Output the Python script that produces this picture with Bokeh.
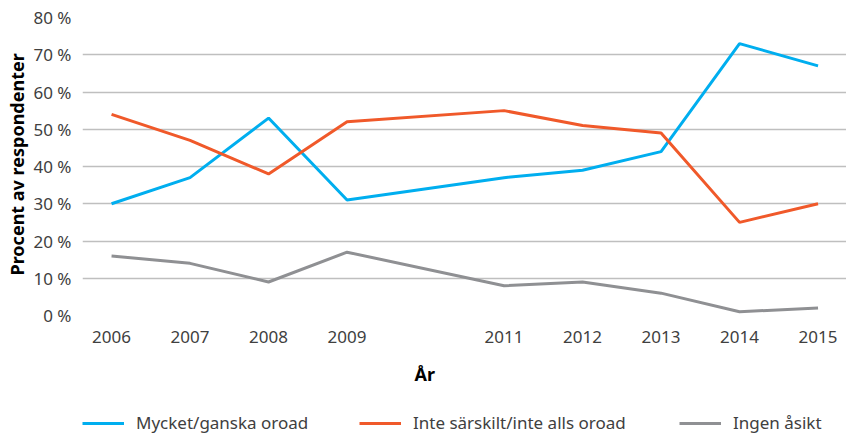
from bokeh.plotting import figure
from bokeh.models import Range1d, FixedTicker, Legend, LegendItem, Title
from bokeh.layouts import column
from bokeh.embed import file_html
from bokeh.resources import INLINE

years = [2006, 2007, 2008, 2009, 2011, 2012, 2013, 2014, 2015]
oroad = [30, 37, 53, 31, 37, 39, 44, 73, 67]
inte_oroad = [54, 47, 38, 52, 55, 51, 49, 25, 30]
ingen_asikt = [16, 14, 9, 17, 8, 9, 6, 1, 2]
series_names = ["Mycket/ganska oroad", "Inte särskilt/inte alls oroad", "Ingen åsikt"]
series_colors = ["#00AEEF", "#F0592A", "#8F9093"]
y_ticks = [0, 10, 20, 30, 40, 50, 60, 70, 80]
y_title = "Procent av respondenter"
x_title = "År"

FONT = "Noto Sans"
TXT = "#404040"
series = [oroad, inte_oroad, ingen_asikt]

p = figure(width=846, height=397, frame_width=768, frame_height=298,
           min_border_left=78, min_border_right=0, min_border_top=17, min_border_bottom=82,
           output_backend="svg", toolbar_location=None,
           x_range=Range1d(2005.63, 2005.63 + 768 / 78.5), y_range=Range1d(0, 80))
p.outline_line_color = None
p.background_fill_color = "white"
p.border_fill_color = "white"

for vals, col in zip(series, series_colors):
    p.line(years, vals, line_color=col, line_width=3)

p.xaxis.ticker = FixedTicker(ticks=years)
p.yaxis.ticker = FixedTicker(ticks=y_ticks)
p.yaxis.major_label_overrides = {t: f"{t} %" for t in y_ticks}
for ax in (p.xaxis, p.yaxis):
    ax.axis_line_color = None
    ax.major_tick_line_color = None
    ax.minor_tick_line_color = None
    ax.major_label_text_font = FONT
    ax.major_label_text_font_size = "17px"
    ax.major_label_text_color = TXT
p.xaxis.major_label_standoff = 9
p.yaxis.major_label_standoff = 5
p.xgrid.grid_line_color = None
p.ygrid.grid_line_color = "#BFBFBF"
p.ygrid.grid_line_width = 1.5

p.add_layout(Title(text=y_title, align="left", offset=40, text_font=FONT,
                   text_font_style="bold", text_font_size="18px", text_color="black",
                   standoff=4), "left")
p.add_layout(Title(text=x_title, align="left", offset=332, text_font=FONT,
                   text_font_style="bold", text_font_size="18px", text_color="black",
                   standoff=28), "below")

# Legend strip: a second figure, without axes, below the chart
p2 = figure(width=846, height=36, output_backend="svg", toolbar_location=None,
            x_axis_location=None, y_axis_location=None,
            min_border=0, x_range=Range1d(2005.63, 2005.63 + 846 / 78.5),
            y_range=Range1d(1000, 1001))
p2.outline_line_color = None
p2.grid.visible = False
p2.background_fill_color = "white"
p2.border_fill_color = "white"

legend_x = [0, 277, 597]
for name, vals, col, lx in zip(series_names, series, series_colors, legend_x):
    r = p2.line(years, vals, line_color=col, line_width=3)
    lg = Legend(items=[LegendItem(label=name, renderers=[r])], location=(lx, 1),
                orientation="horizontal", padding=0, margin=0,
                glyph_width=42, glyph_height=20, label_height=20, label_standoff=12,
                label_text_font=FONT, label_text_font_size="17px", label_text_color=TXT,
                border_line_color=None, background_fill_alpha=0)
    p2.add_layout(lg, "center")

open("out.html", "w").write(file_html(column(p, p2, spacing=0), INLINE))
